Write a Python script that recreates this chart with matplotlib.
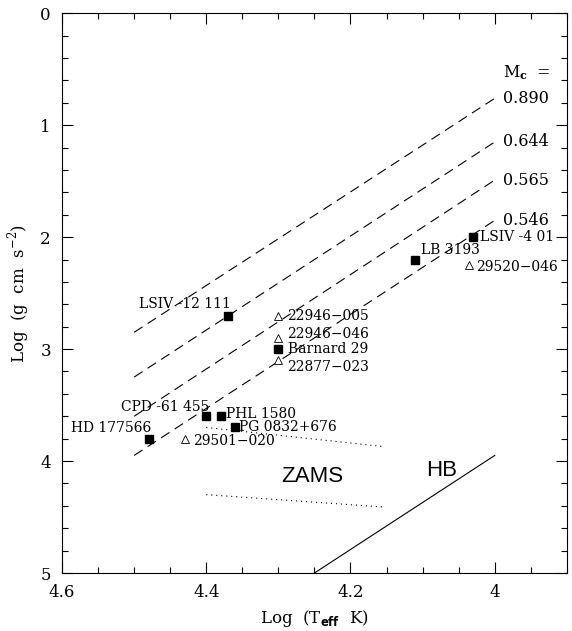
import numpy as np
import matplotlib
matplotlib.use('Agg')
import matplotlib.pyplot as plt
from matplotlib.ticker import MultipleLocator

plt.rcParams['font.family'] = ['DejaVu Serif']
plt.rcParams['mathtext.fontset'] = 'custom'
plt.rcParams['mathtext.rm'] = 'DejaVu Serif'
plt.rcParams['mathtext.sf'] = 'DejaVu Sans:bold'
plt.rcParams['mathtext.bf'] = 'DejaVu Serif:bold'

# core mass tracks (dashed), from log Teff 4.5 to 4.0
trackMass = ['0.890', '0.644', '0.565', '0.546']
trackX = [4.5, 4.0]
trackYStart = [2.85, 3.25, 3.60, 3.95]
trackYEnd = [0.76, 1.15, 1.49, 1.85]

# stars with filled squares
sqNames = ['LSIV -12 111', 'Barnard 29', 'CPD -61 455', 'PHL 1580',
           'PG 0832+676', 'HD 177566', 'LB 3193', 'LSIV -4 01']
sqTeff = [4.37, 4.30, 4.40, 4.38, 4.36, 4.48, 4.11, 4.03]
sqLogg = [2.70, 3.00, 3.60, 3.60, 3.70, 3.80, 2.20, 2.00]

# stars with open triangles
triNames = ['22946\u2212005', '22946\u2212046', '22877\u2212023',
            '29501\u2212020', '29520\u2212046']
triTeff = [4.30, 4.30, 4.30, 4.43, 4.035]
triLogg = [2.70, 2.90, 3.10, 3.80, 2.25]

# ZAMS (dotted) and HB (solid)
zamsX = [4.40, 4.155]
zamsUpper = [3.70, 3.87]
zamsLower = [4.30, 4.41]
hbX = [4.25, 4.0]
hbY = [5.0, 3.95]

# label offsets in points (dx, dy, ha)
sqOff = [(2, 8, 'right'), (7, 0, 'left'), (2, 7, 'right'), (4, 1.5, 'left'),
         (3, 0, 'left'), (2, 8, 'right'), (4, 7, 'left'), (5, 0, 'left')]
triOff = [(6, 0, 'left'), (6, 3, 'left'), (6, -5, 'left'), (6, -2, 'left'),
          (5, -1, 'left')]

fig = plt.figure(figsize=(5.72, 6.31), dpi=100)
ax = fig.add_axes([0.1084, 0.0919, 0.8826, 0.8871])

for m, y0, y1 in zip(trackMass, trackYStart, trackYEnd):
    ax.plot(trackX, [y0, y1], color='black', lw=0.8, dashes=(9, 5.5))
    ax.text(3.988, y1, m, fontsize=11.5, ha='left', va='center')
ax.text(3.988, 0.53, r'M$_{\mathbf{c}}$  =', fontsize=11.5, ha='left', va='center')

ax.plot(zamsX, zamsUpper, color='black', lw=0.8, ls=(0, (1, 3.5)))
ax.plot(zamsX, zamsLower, color='black', lw=0.8, ls=(0, (1, 3.5)))
ax.plot(hbX, hbY, color='black', lw=0.8)
ax.text(4.253, 4.14, 'ZAMS', fontsize=16, family='Liberation Sans', ha='center', va='center')
ax.text(4.073, 4.08, 'HB', fontsize=16, family='Liberation Sans', ha='center', va='center')

ax.plot(sqTeff, sqLogg, 's', color='black', ms=5.5, ls='none')
ax.plot(triTeff, triLogg, '^', mfc='white', mec='black', mew=0.6, ms=5.5, ls='none')

for name, x, y, (dx, dy, ha) in zip(sqNames, sqTeff, sqLogg, sqOff):
    ax.annotate(name, (x, y), xytext=(dx, dy), textcoords='offset points',
                fontsize=10, ha=ha, va='center')
for name, x, y, (dx, dy, ha) in zip(triNames, triTeff, triLogg, triOff):
    ax.annotate(name, (x, y), xytext=(dx, dy), textcoords='offset points',
                fontsize=10, ha=ha, va='center')

ax.set_xlim(4.6, 3.9)
ax.set_ylim(5, 0)
ax.xaxis.set_major_locator(MultipleLocator(0.2))
ax.xaxis.set_minor_locator(MultipleLocator(0.05))
ax.yaxis.set_major_locator(MultipleLocator(1))
ax.yaxis.set_minor_locator(MultipleLocator(0.2))
ax.set_xticks([4.6, 4.4, 4.2, 4.0])
ax.set_xticklabels(['4.6', '4.4', '4.2', '4'])
ax.tick_params(which='both', direction='in', top=True, right=True, labelsize=12, width=0.8)
ax.tick_params(which='major', length=8, pad=8)
ax.tick_params(which='minor', length=4.3)
for s in ax.spines.values():
    s.set_linewidth(0.8)

ax.set_xlabel(r'Log  (T$_{\mathsf{eff}}$  K)', fontsize=12, labelpad=5)
ax.set_ylabel(r'Log  (g  cm  s$^{-2}$)', fontsize=12, labelpad=6)

fig.savefig('out.png', dpi=100)
